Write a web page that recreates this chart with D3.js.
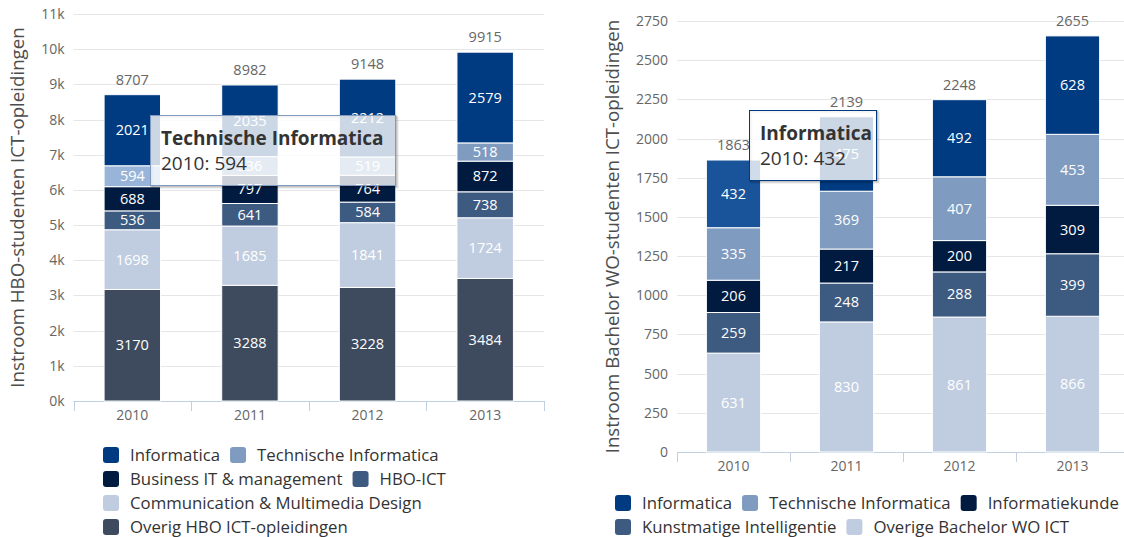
<!DOCTYPE html>
<html>
<head>
<meta charset="utf-8">
<script src="https://cdn.jsdelivr.net/npm/d3@7"></script>
<style>
  body { margin: 0; background: #fff; }
  svg { display: block; font-family: "Open Sans", sans-serif; }
</style>
</head>
<body>
<div id="view"></div>
<script>
var width = 1124, height = 537;

// jaren
var years = ["2010", "2011", "2012", "2013"];

// HBO instroom (bovenste serie staat bovenaan de stapel)
var hboNames = ["Informatica", "Technische Informatica", "Business IT & management", "HBO-ICT",
	"Communication & Multimedia Design", "Overig HBO ICT-opleidingen"];
var hboInformatica = [2021, 2035, 2212, 2579];
var hboTechInf     = [594, 536, 519, 518];
var hboBusinessIT  = [688, 797, 764, 872];
var hboHboIct      = [536, 641, 584, 738];
var hboCmd         = [1698, 1685, 1841, 1724];
var hboOverig      = [3170, 3288, 3228, 3484];
var hboTicks = [0, 1000, 2000, 3000, 4000, 5000, 6000, 7000, 8000, 9000, 10000, 11000];

// WO bachelor instroom
var woNames = ["Informatica", "Technische Informatica", "Informatiekunde",
	"Kunstmatige Intelligentie", "Overige Bachelor WO ICT"];
var woInformatica = [432, 475, 492, 628];
var woTechInf     = [335, 369, 407, 453];
var woInfokunde   = [206, 217, 200, 309];
var woKI          = [259, 248, 288, 399];
var woOverig      = [631, 830, 861, 866];
var woTicks = [0, 250, 500, 750, 1000, 1250, 1500, 1750, 2000, 2250, 2500, 2750];

var colors = ["#003a80", "#7f9cc0", "#001a40", "#3d5a80", "#c0cde0", "#3e4b5e"];

var svg = d3.select("#view").append("svg")
	.attr("width", width)
	.attr("height", height);

function drawChart(opt) {
	var g = svg.append("g");
	var n = opt.series.length;

	// rijen per jaar maken
	var rows = years.map(function(y, i) {
		var r = { year: y };
		for (var s = 0; s < n; s++) r[s] = opt.series[s][i];
		return r;
	});
	// eerste serie bovenaan -> onderaan beginnen met de laatste
	var keys = d3.range(n).reverse();
	var stacked = d3.stack().keys(keys)(rows);

	var x = d3.scaleBand().domain(years).range([opt.x0, opt.x1]).paddingInner(0.52).paddingOuter(0.26);
	var xb = d3.scaleBand().domain(years).range([opt.x0, opt.x1]);
	var y = d3.scaleLinear().domain([0, opt.max]).range([opt.y0, opt.y1]);

	// rasterlijnen
	g.selectAll(".grid").data(opt.ticks).enter().append("line")
		.attr("x1", opt.x0).attr("x2", opt.x1)
		.attr("y1", function(d) { return Math.round(y(d)) + 0.5; })
		.attr("y2", function(d) { return Math.round(y(d)) + 0.5; })
		.style("stroke", "#e6e6e6").style("stroke-width", 1);

	// y labels
	g.selectAll(".ylab").data(opt.ticks).enter().append("text")
		.attr("x", opt.x0 - 9)
		.attr("y", function(d) { return y(d) + 5; })
		.attr("text-anchor", "end")
		.style("font-size", "14px").style("fill", "#666")
		.text(opt.tickFormat);

	// as titel
	g.append("text")
		.attr("transform", "translate(" + opt.titleX + "," + ((opt.y0 + opt.y1) / 2) + ") rotate(-90)")
		.attr("text-anchor", "middle")
		.style("font-size", "18.7px").style("fill", "#4d4d4d")
		.text(opt.title);

	// x as
	g.append("line")
		.attr("x1", opt.x0).attr("x2", opt.x1)
		.attr("y1", Math.round(opt.y0) + 0.5).attr("y2", Math.round(opt.y0) + 0.5)
		.style("stroke", "#c0d0e0");
	var edges = years.map(function(d) { return xb(d); }).concat([opt.x1]);
	g.selectAll(".xtick").data(edges).enter().append("line")
		.attr("x1", function(d) { return Math.round(d) + 0.5; })
		.attr("x2", function(d) { return Math.round(d) + 0.5; })
		.attr("y1", opt.y0).attr("y2", opt.y0 + 10)
		.style("stroke", "#c0d0e0");
	g.selectAll(".xlab").data(years).enter().append("text")
		.attr("x", function(d) { return xb(d) + xb.bandwidth() / 2; })
		.attr("y", opt.y0 + 19)
		.attr("text-anchor", "middle")
		.style("font-size", "14px").style("fill", "#666")
		.text(function(d) { return d; });

	// balken
	var layers = g.selectAll(".layer").data(stacked).enter().append("g");
	layers.selectAll("rect").data(function(d) { return d.map(function(p) { p.key = d.key; return p; }); })
		.enter().append("rect")
		.attr("x", function(d) { return x(d.data.year); })
		.attr("width", x.bandwidth())
		.attr("y", function(d) { return y(d[1]); })
		.attr("height", function(d) { return y(d[0]) - y(d[1]); })
		.style("fill", function(d) {
			var c = colors[opt.colorIdx[d.key]];
			if (d.key == opt.hover.series && d.data.year == opt.hover.year) return opt.hoverColor;
			return c;
		})
		.style("stroke", "#fff").style("stroke-width", 1);

	// waarden in de balken
	layers.selectAll("text").data(function(d) { return d; })
		.enter().append("text")
		.attr("x", function(d) { return x(d.data.year) + x.bandwidth() / 2; })
		.attr("y", function(d) { return (y(d[0]) + y(d[1])) / 2 + 5; })
		.attr("text-anchor", "middle")
		.style("font-size", "14.5px").style("fill", "#fff")
		.text(function(d) { return d[1] - d[0]; });

	// totalen
	g.selectAll(".total").data(rows).enter().append("text")
		.attr("x", function(d) { return x(d.year) + x.bandwidth() / 2; })
		.attr("y", function(d) { return y(d3.sum(keys, function(k) { return d[k]; })) - 10; })
		.attr("text-anchor", "middle")
		.style("font-size", "14.5px").style("fill", "#666")
		.text(function(d) { return d3.sum(keys, function(k) { return d[k]; }); });

	// tooltip
	var h = opt.hover;
	var hv = opt.series[h.series][years.indexOf(h.year)];
	var tip = g.append("g").attr("transform", "translate(" + h.tx + "," + h.ty + ")");
	for (var s = 3; s >= 1; s--) {
		tip.append("rect").attr("x", s).attr("y", s).attr("width", h.tw).attr("height", 70)
			.style("fill", "none").style("stroke", "#000").style("stroke-opacity", 0.05 * (4 - s)).style("stroke-width", 2);
	}
	tip.append("rect").attr("x", 0.5).attr("y", 0.5).attr("width", h.tw).attr("height", 70)
		.style("fill", "#fff").style("fill-opacity", 0.8)
		.style("stroke", h.border).style("stroke-width", 1);
	tip.append("text").attr("x", 11).attr("y", 30)
		.style("font-size", "19px").style("font-weight", "bold").style("fill", "#333")
		.text(opt.names[h.series]);
	tip.append("text").attr("x", 11).attr("y", 55)
		.style("font-size", "19px").style("fill", "#333")
		.text(h.year + ": " + hv);

	// legenda
	var lg = g.append("g");
	opt.legendRows.forEach(function(row, ri) {
		var lx = opt.legendX;
		var ly = opt.legendY + ri * opt.legendStep;
		row.forEach(function(si) {
			lg.append("rect").attr("x", lx).attr("y", ly - 8).attr("width", 16).attr("height", 16)
				.attr("rx", 3).attr("ry", 3)
				.style("fill", colors[opt.colorIdx[si]]);
			var t = lg.append("text").attr("x", lx + 27).attr("y", ly + 6)
				.style("font-size", "16.8px").style("fill", "#333")
				.text(opt.names[si]);
			lx += 27 + t.node().getComputedTextLength() + 10;
		});
	});
}

drawChart({
	series: [hboInformatica, hboTechInf, hboBusinessIT, hboHboIct, hboCmd, hboOverig],
	names: hboNames,
	colorIdx: [0, 1, 2, 3, 4, 5],
	max: 11000, ticks: hboTicks,
	tickFormat: function(d) { return (d / 1000) + "k"; },
	x0: 73.5, x1: 544, y0: 401, y1: 14,
	title: "Instroom HBO-studenten ICT-opleidingen", titleX: 24,
	hover: { series: 1, year: "2010", tx: 150, ty: 115, tw: 245, border: "#7f9cc0" },
	hoverColor: "#98b5d9",
	legendRows: [[0, 1], [2, 3], [4], [5]], legendX: 103, legendY: 455, legendStep: 24
});

drawChart({
	series: [woInformatica, woTechInf, woInfokunde, woKI, woOverig],
	names: woNames,
	colorIdx: [0, 1, 2, 3, 4],
	max: 2750, ticks: woTicks,
	tickFormat: function(d) { return d; },
	x0: 677, x1: 1129, y0: 452, y1: 21,
	title: "Instroom Bachelor WO-studenten ICT-opleidingen", titleX: 619,
	hover: { series: 0, year: "2010", tx: 749, ty: 110, tw: 127, border: "#003a80" },
	hoverColor: "#195399",
	legendRows: [[0, 1, 2], [3, 4]], legendX: 615, legendY: 503, legendStep: 24
});
</script>
</body>
</html>
